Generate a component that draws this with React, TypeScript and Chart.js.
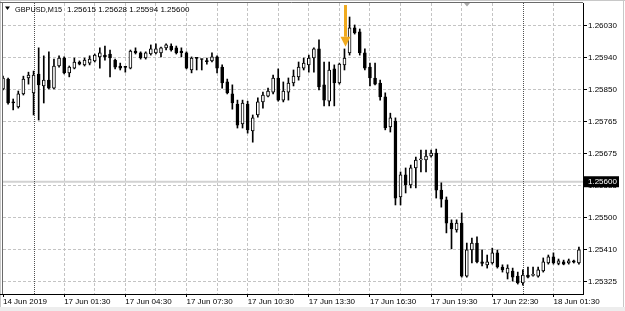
import React, { useEffect, useRef } from 'react';
import { Chart, registerables } from 'chart.js';

Chart.register(...registerables);

const symbolTitle = 'GBPUSD,M15';
const headerPrices = '1.25615 1.25628 1.25594 1.25600';
const bidPrice = 1.256;
const bidLabel = '1.25600';

const open = [
  1.25856, 1.25883, 1.2582, 1.25806, 1.25842, 1.25886, 1.25845, 1.25897, 1.25864, 1.2588,
  1.25858, 1.25919, 1.25941, 1.259, 1.25913, 1.2593, 1.25922, 1.25927, 1.25933, 1.25944,
  1.25949, 1.25952, 1.25935, 1.25919, 1.25916, 1.25913, 1.2596, 1.25955, 1.25941, 1.25952,
  1.25955, 1.25955, 1.25969, 1.25974, 1.25969, 1.2596, 1.25955, 1.25908, 1.25941, 1.25938,
  1.25934, 1.25933, 1.25944, 1.25916, 1.25875, 1.25842, 1.25814, 1.25759, 1.25814, 1.2574,
  1.25784, 1.2582, 1.25836, 1.25847, 1.25886, 1.25825, 1.25847, 1.25872, 1.25889, 1.25913,
  1.25922, 1.25941, 1.25966, 1.25867, 1.25822, 1.25911, 1.25872, 1.25922, 1.25955, 1.26024,
  1.26013, 1.25955, 1.25916, 1.25886, 1.25872, 1.25834, 1.25751, 1.25767, 1.25558, 1.25619,
  1.25591, 1.25638, 1.2566, 1.2566, 1.25671, 1.25679, 1.25577, 1.2555, 1.25486, 1.25467,
  1.25486, 1.2534, 1.25412, 1.25431, 1.25379, 1.25371, 1.25376, 1.25404, 1.25365, 1.25348,
  1.25354, 1.2534, 1.25321, 1.25343, 1.25342, 1.2534, 1.25354, 1.25376, 1.25393, 1.25375,
  1.25379, 1.25376, 1.25382, 1.25376,
];
const high = [
  1.25891, 1.25886, 1.25828, 1.2585, 1.25891, 1.25902, 1.25905, 1.25969, 1.25947, 1.25958,
  1.25938, 1.25947, 1.25944, 1.25919, 1.25941, 1.25933, 1.25941, 1.25947, 1.25952, 1.25969,
  1.25974, 1.25963, 1.25938, 1.25927, 1.25917, 1.25963, 1.25969, 1.25958, 1.25958, 1.25977,
  1.2598, 1.25971, 1.2598, 1.2598, 1.25974, 1.25969, 1.25958, 1.25944, 1.25941, 1.25938,
  1.25941, 1.25955, 1.25947, 1.25922, 1.25883, 1.25867, 1.25825, 1.25825, 1.25822, 1.25784,
  1.25831, 1.25847, 1.25858, 1.25894, 1.25911, 1.25875, 1.25886, 1.25908, 1.2593, 1.25941,
  1.25949, 1.25969, 1.25991, 1.2593, 1.2593, 1.25922, 1.25927, 1.25966, 1.26054, 1.26032,
  1.26021, 1.25966, 1.25927, 1.25927, 1.2588, 1.25845, 1.25789, 1.25776, 1.25627, 1.25638,
  1.25646, 1.25668, 1.25687, 1.25687, 1.25687, 1.2569, 1.25597, 1.25558, 1.25495, 1.25495,
  1.25514, 1.25431, 1.25445, 1.25448, 1.25412, 1.25398, 1.25417, 1.25412, 1.25371, 1.25371,
  1.25362, 1.25351, 1.25357, 1.25365, 1.25365, 1.25365, 1.2539, 1.25398, 1.25404, 1.25387,
  1.25384, 1.25387, 1.25384, 1.2542,
];
const low = [
  1.25853, 1.25814, 1.25798, 1.25803, 1.25839, 1.25869, 1.25784, 1.2577, 1.25817, 1.25856,
  1.25856, 1.25916, 1.25897, 1.25889, 1.25911, 1.25922, 1.25919, 1.25922, 1.2593, 1.25913,
  1.25935, 1.25889, 1.25911, 1.25908, 1.25902, 1.25911, 1.25952, 1.25938, 1.25938, 1.25949,
  1.25952, 1.25944, 1.25963, 1.2596, 1.25952, 1.25944, 1.25911, 1.259, 1.25908, 1.25908,
  1.25924, 1.2593, 1.259, 1.25858, 1.25842, 1.258, 1.25748, 1.25748, 1.25734, 1.25709,
  1.25778, 1.25803, 1.25834, 1.25842, 1.25822, 1.2582, 1.25825, 1.25864, 1.2588, 1.25908,
  1.25902, 1.25902, 1.25853, 1.25809, 1.25809, 1.25809, 1.25869, 1.25908, 1.25949, 1.26007,
  1.25949, 1.25908, 1.25864, 1.25867, 1.25825, 1.25743, 1.25737, 1.25536, 1.25536, 1.25569,
  1.25583, 1.25583, 1.25627, 1.25627, 1.25668, 1.25555, 1.2553, 1.25459, 1.25415, 1.25461,
  1.25337, 1.25337, 1.25376, 1.25376, 1.25368, 1.25362, 1.25373, 1.25362, 1.25351, 1.25332,
  1.25326, 1.25318, 1.25315, 1.25335, 1.2534, 1.25337, 1.25351, 1.25373, 1.25373, 1.25371,
  1.25371, 1.25373, 1.25376, 1.25373,
];
const close = [
  1.25886, 1.25817, 1.25817, 1.25842, 1.25883, 1.25894, 1.25894, 1.25867, 1.2588, 1.25858,
  1.25919, 1.25941, 1.259, 1.25916, 1.2593, 1.25924, 1.25935, 1.25938, 1.25949, 1.25955,
  1.25944, 1.25941, 1.25916, 1.25913, 1.25915, 1.2596, 1.25955, 1.25941, 1.25955, 1.25966,
  1.25966, 1.25969, 1.25977, 1.25963, 1.25955, 1.25956, 1.25913, 1.25941, 1.2594, 1.25937,
  1.25931, 1.25944, 1.25913, 1.25872, 1.25845, 1.25817, 1.25756, 1.25817, 1.25743, 1.25776,
  1.2582, 1.25839, 1.2585, 1.25886, 1.25825, 1.2585, 1.25872, 1.25891, 1.25916, 1.25927,
  1.25941, 1.25966, 1.25861, 1.25825, 1.25908, 1.25872, 1.25924, 1.25941, 1.26024, 1.2601,
  1.25955, 1.25913, 1.25886, 1.25869, 1.25834, 1.25748, 1.25776, 1.25555, 1.25619, 1.25591,
  1.25638, 1.2566, 1.25663, 1.25671, 1.25679, 1.25577, 1.25552, 1.25486, 1.2547, 1.25486,
  1.2534, 1.25412, 1.25431, 1.25379, 1.25375, 1.25379, 1.25404, 1.25365, 1.25357, 1.25362,
  1.25337, 1.25321, 1.25343, 1.25337, 1.25343, 1.25357, 1.25379, 1.25393, 1.25376, 1.25382,
  1.25373, 1.25382, 1.25378, 1.25412,
];

const xGridIdx = [0, 6, 12, 18, 24, 30, 36, 42, 48, 54, 60, 66, 72, 78, 84, 90, 96, 102, 108];
const xLabelIdx = [0, 12, 24, 36, 48, 60, 72, 84, 96, 108];
const xTickLabels = [
  '14 Jun 2019', '17 Jun 01:30', '17 Jun 04:30', '17 Jun 07:30', '17 Jun 10:30',
  '17 Jun 13:30', '17 Jun 16:30', '17 Jun 19:30', '17 Jun 22:30', '18 Jun 01:30',
];
const separatorIdx = [6, 102];
const yGridValues = [1.25325, 1.254131, 1.255013, 1.255894, 1.256775, 1.257656, 1.258538, 1.259419, 1.2603];
const yTickLabels = ['1.25325', '1.25410', '1.25500', '1.25585', '1.25675', '1.25765', '1.25850', '1.25940', '1.26030'];
const yMin = 1.252906;
const yMax = 1.260926;
const xMin = 0;
const xMax = 113.8;
const arrowIdx = 67.2;
const arrowTop = 1.26087;
const arrowTip = 1.25972;

const FONT = '"Liberation Sans", Arial, sans-serif';

const overlay = {
  id: 'mtOverlay',
  beforeDatasetsDraw(chart: any) {
    const { ctx, chartArea: a, scales } = chart;
    const x = scales.x;
    const y = scales.y;
    ctx.save();
    const by = y.getPixelForValue(bidPrice);
    ctx.strokeStyle = '#d2d2d2';
    ctx.lineWidth = 2;
    ctx.beginPath();
    ctx.moveTo(a.left, by);
    ctx.lineTo(a.right, by);
    ctx.stroke();
    ctx.strokeStyle = '#505050';
    ctx.lineWidth = 1;
    ctx.setLineDash([1, 1]);
    for (const s of separatorIdx) {
      const px = Math.round(x.getPixelForValue(s)) + 0.5;
      ctx.beginPath();
      ctx.moveTo(px, a.top);
      ctx.lineTo(px, a.bottom);
      ctx.stroke();
    }
    ctx.restore();
  },
  afterDraw(chart: any) {
    const { ctx, chartArea: a, scales } = chart;
    const x = scales.x;
    const y = scales.y;
    ctx.save();
    ctx.fillStyle = '#ededed';
    ctx.fillRect(0, 307, 625, 4);
    ctx.strokeStyle = '#c8c8c8';
    ctx.lineWidth = 1;
    ctx.beginPath();
    ctx.moveTo(0, 0.5); ctx.lineTo(625, 0.5);
    ctx.moveTo(0.5, 0); ctx.lineTo(0.5, 307);
    ctx.moveTo(623.5, 0); ctx.lineTo(623.5, 307);
    ctx.stroke();
    ctx.strokeStyle = '#6a6a6a';
    ctx.beginPath();
    ctx.moveTo(0, 2.5); ctx.lineTo(a.right, 2.5);
    ctx.moveTo(2.5, 2); ctx.lineTo(2.5, a.bottom);
    ctx.stroke();
    ctx.strokeStyle = '#000';
    ctx.beginPath();
    ctx.moveTo(0, Math.round(a.bottom) + 0.5); ctx.lineTo(a.left, Math.round(a.bottom) + 0.5);
    ctx.stroke();

    ctx.fillStyle = '#a8a8a8';
    ctx.beginPath();
    ctx.moveTo(464, 3); ctx.lineTo(470, 3); ctx.lineTo(467, 6.5); ctx.closePath();
    ctx.fill();

    ctx.fillStyle = '#000';
    ctx.beginPath();
    ctx.moveTo(5, 6.5); ctx.lineTo(10, 6.5); ctx.lineTo(7.5, 10); ctx.closePath();
    ctx.fill();
    ctx.font = `8px ${FONT}`;
    ctx.textBaseline = 'alphabetic';
    ctx.textAlign = 'left';
    ctx.fillText(symbolTitle, 15, 12, 47);
    ctx.fillText(headerPrices, 67, 12);

    const ax = x.getPixelForValue(arrowIdx);
    const at = y.getPixelForValue(arrowTop);
    const ap = y.getPixelForValue(arrowTip);
    ctx.fillStyle = '#f0aa1e';
    ctx.fillRect(ax - 1.5, at, 3, ap - 10 - at);
    ctx.beginPath();
    ctx.moveTo(ax - 5, ap - 10); ctx.lineTo(ax + 5, ap - 10); ctx.lineTo(ax, ap); ctx.closePath();
    ctx.fill();

    const by = y.getPixelForValue(bidPrice);
    ctx.fillStyle = '#000';
    ctx.fillRect(a.right + 1, by - 5.5, 35, 11);
    ctx.fillStyle = '#fff';
    ctx.textBaseline = 'middle';
    ctx.fillText(bidLabel, a.right + 5, by);
    ctx.restore();
  },
};

export default function App() {
  const ref = useRef<HTMLCanvasElement | null>(null);
  useEffect(() => {
    document.body.style.margin = '0';
    const canvas = ref.current;
    if (!canvas) return;
    const bodies = open.map((o, i) => ({ x: i, y: [o, close[i]] }));
    const wicks = low.map((l, i) => ({ x: i, y: [l, high[i]] }));
    const chart = new Chart(canvas, {
      type: 'bar',
      data: {
        datasets: [
          {
            label: 'body',
            data: bodies as any,
            backgroundColor: (c: any) => (close[c.dataIndex] >= open[c.dataIndex] ? '#ffffff' : '#000000'),
            borderColor: '#000000',
            borderWidth: 1,
            borderSkipped: false,
            barThickness: 3,
            minBarLength: 1,
            grouped: false,
            order: 0,
          } as any,
          {
            label: 'wick',
            data: wicks as any,
            backgroundColor: '#000000',
            borderWidth: 0,
            barThickness: 1,
            minBarLength: 1,
            grouped: false,
            order: 1,
          } as any,
        ],
      },
      options: {
        animation: false,
        responsive: false,
        devicePixelRatio: 1,
        events: [],
        layout: { padding: { left: 3, top: 3, right: 0, bottom: 0 } },
        plugins: { legend: { display: false }, tooltip: { enabled: false } },
        scales: {
          x: {
            type: 'linear',
            offset: false,
            min: xMin,
            max: xMax,
            afterBuildTicks: (s: any) => {
              s.ticks = xGridIdx.map((v) => ({ value: v }));
            },
            afterFit: (s: any) => {
              s.height = 17;
              s.paddingLeft = 0;
              s.paddingRight = 0;
            },
            grid: {
              offset: false,
              color: (c: any) => (c.tick && (c.tick.value === 0 || separatorIdx.includes(c.tick.value)) ? 'rgba(0,0,0,0)' : '#c4c4c4'),
              lineWidth: 1,
              drawTicks: true,
              tickLength: 3,
              tickColor: (c: any) => (c.tick && xLabelIdx.includes(c.tick.value) ? '#000000' : 'rgba(0,0,0,0)'),
            },
            border: { display: true, color: '#000000', width: 1, dash: [3, 2] },
            ticks: {
              autoSkip: false,
              maxRotation: 0,
              minRotation: 0,
              align: 'start',
              padding: 0,
              color: '#000000',
              font: { family: FONT, size: 8 },
              callback: (v: any) => {
                const k = xLabelIdx.indexOf(Number(v));
                return k >= 0 ? xTickLabels[k] : '';
              },
            },
          } as any,
          y: {
            type: 'linear',
            position: 'right',
            min: yMin,
            max: yMax,
            afterBuildTicks: (s: any) => {
              s.ticks = yGridValues.map((v) => ({ value: v }));
            },
            afterFit: (s: any) => {
              s.width = 42;
              s.paddingTop = 0;
              s.paddingBottom = 0;
            },
            grid: {
              color: '#c4c4c4',
              lineWidth: 1,
              drawTicks: true,
              tickLength: 4,
              tickColor: '#000000',
            },
            border: { display: true, color: '#000000', width: 1, dash: [3, 2] },
            ticks: {
              padding: 1,
              color: '#000000',
              font: { family: FONT, size: 8 },
              callback: (_v: any, idx: number) => yTickLabels[idx],
            },
          } as any,
        },
      },
      plugins: [overlay],
    });
    return () => chart.destroy();
  }, []);
  return (
    <div style={{ width: 625, height: 311, background: '#ffffff' }}>
      <canvas ref={ref} width={625} height={311} style={{ display: 'block' }} />
    </div>
  );
}
